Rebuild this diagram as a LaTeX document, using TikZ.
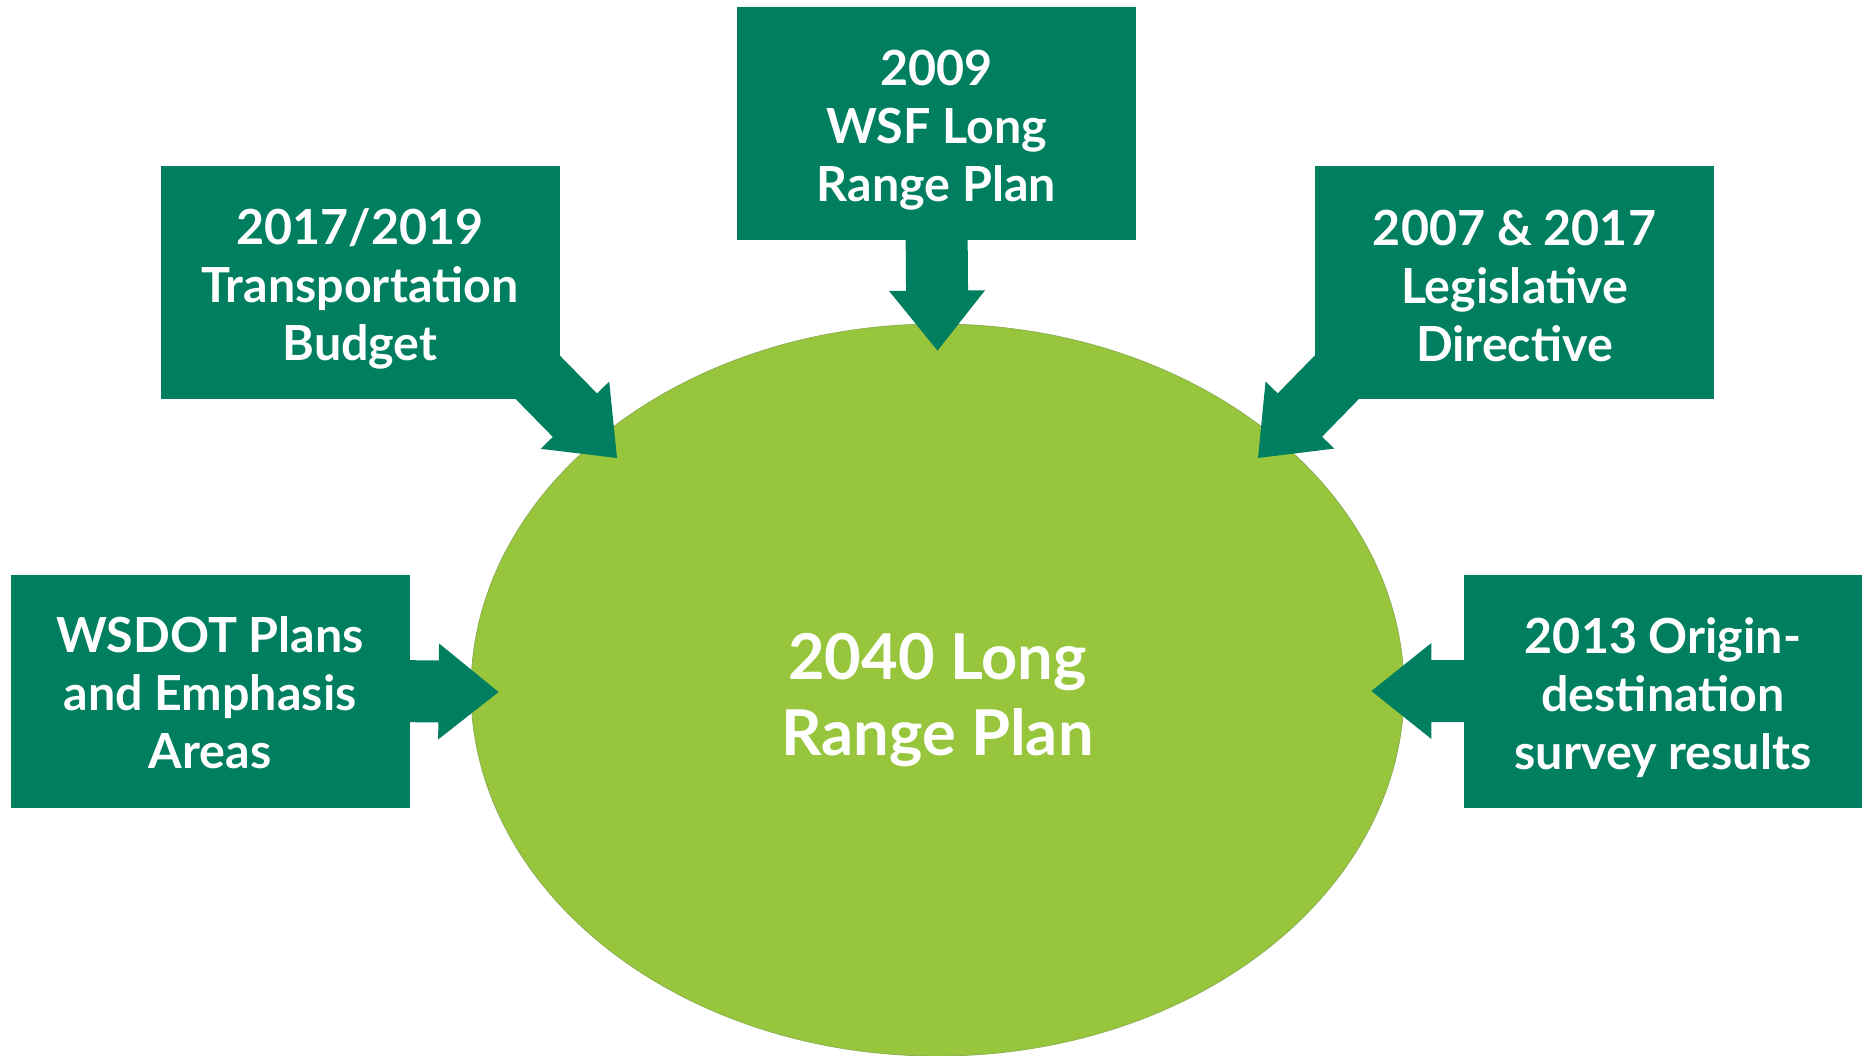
\documentclass[tikz,border=0pt]{standalone}
\usepackage{fontspec}
\setmainfont{Lato}
\usetikzlibrary{shapes.geometric,calc}
\definecolor{boxgreen}{RGB}{0,127,96}
\definecolor{ovalgreen}{RGB}{151,198,61}
\definecolor{ovaledge}{RGB}{140,175,80}
\newcommand\blockarrow[3]{% #1 start, #2 tip, #3 name
  \coordinate (#3b) at ($(#2)!30pt!(#1)$);
  \fill[arrowfill] ($(#1)!15.5pt!90:(#2)$) -- ($(#3b)!15.5pt!90:(#2)$) -- ($(#3b)!24pt!90:(#2)$) -- (#2) -- ($(#3b)!24pt!-90:(#2)$) -- ($(#3b)!15.5pt!-90:(#2)$) -- ($(#1)!15.5pt!-90:(#2)$) -- cycle;
}
\begin{document}
\begin{tikzpicture}[x=0.5pt,y=-0.5pt,
  srcbox/.style={fill=boxgreen, minimum width=199.5pt, minimum height=116.5pt, inner sep=0pt},
  boxtext/.style={text=white, inner sep=0pt, align=center, font=\fontsize{24.2pt}{29pt}\selectfont\bfseries},
  oval/.style={ellipse, fill=ovalgreen, draw=ovaledge, line width=0.4pt, minimum width=466.5pt,
    minimum height=366pt, inner sep=0pt},
  ovaltext/.style={text=white, inner sep=0pt, align=center, font=\fontsize{31.6pt}{38pt}\selectfont\bfseries},
  arrowfill/.style={fill=boxgreen}]
\useasboundingbox (0,0) rectangle (1862,1055);
\fill[white] (0,0) rectangle (1862,1055);

\node[oval] (oval) at (937.5,690) {};
\node[ovaltext] (ovalt) at ($(oval.center)+(0,10)$) {2040 Long\\Range Plan};

\node[srcbox] (top) at (936.5,123) {};
\node[srcbox] (tl) at (360,282.5) {};
\node[srcbox] (tr) at (1514.5,282.5) {};
\node[srcbox] (left) at (210,691) {};
\node[srcbox] (right) at (1663,691) {};

\coordinate (topS) at ($(top.south)+(0,-20)$);
\coordinate (topT) at ($(oval.north)+(0,27)$);
\coordinate (tlS) at ($(tl.south east)+(-25,-25)$);
\coordinate (tlT) at (617,458);
\coordinate (trS) at ($(tr.south west)+(25,-25)$);
\coordinate (trT) at (1258,458);
\coordinate (leftS) at ($(left.east)+(-20,0)$);
\coordinate (leftT) at ($(oval.west)+(28,2)$);
\coordinate (rightS) at ($(right.west)+(20,0)$);
\coordinate (rightT) at ($(oval.east)+(-33,1)$);

\blockarrow{topS}{topT}{a1}
\blockarrow{tlS}{tlT}{a2}
\blockarrow{trS}{trT}{a3}
\blockarrow{leftS}{leftT}{a4}
\blockarrow{rightS}{rightT}{a5}

\node[boxtext] (topt) at ($(top.center)+(0,7)$) {2009\\WSF Long\\Range Plan};
\node[boxtext] (tlt) at ($(tl.center)+(0,6.5)$) {2017/2019\\Transportation\\Budget};
\node[boxtext] (trt) at ($(tr.center)+(0,3)$) {2007 \& 2017\\Legislative\\Directive};
\node[boxtext] (leftt) at ($(left.center)+(0,2)$) {WSDOT Plans\\and Emphasis\\Areas};
\node[boxtext] (rightt) at ($(right.center)+(0,7)$) {2013 Origin-\\destination\\survey results};
\end{tikzpicture}
\end{document}
